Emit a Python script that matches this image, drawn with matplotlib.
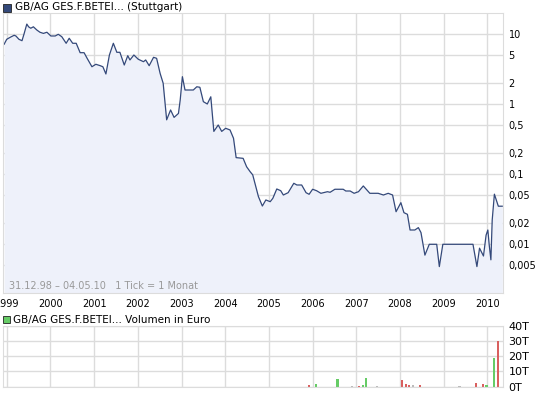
import numpy as np
import matplotlib
matplotlib.use("Agg")
import matplotlib.pyplot as plt
from matplotlib.patches import Rectangle

# price series (decimal year, EUR)
years = [1998.94, 1999.00, 1999.08, 1999.17, 1999.21, 1999.28, 1999.35, 1999.40,
         1999.46, 1999.50, 1999.55, 1999.61, 1999.69, 1999.76, 1999.84, 1999.92,
         2000.01, 2000.11, 2000.18, 2000.26, 2000.36, 2000.43, 2000.51, 2000.59,
         2000.68, 2000.77, 2000.84, 2000.95, 2001.04, 2001.14, 2001.20, 2001.27,
         2001.35, 2001.44, 2001.52, 2001.59, 2001.69, 2001.77, 2001.82, 2001.91,
         2002.01, 2002.13, 2002.18, 2002.26, 2002.36, 2002.43, 2002.51, 2002.58,
         2002.66, 2002.75, 2002.83, 2002.93, 2002.97, 2003.02, 2003.08, 2003.27,
         2003.35, 2003.42, 2003.50, 2003.59, 2003.67, 2003.74, 2003.84, 2003.92,
         2004.01, 2004.11, 2004.19, 2004.25, 2004.41, 2004.49, 2004.57, 2004.63,
         2004.76, 2004.85, 2004.93, 2005.03, 2005.09, 2005.18, 2005.27, 2005.33,
         2005.44, 2005.57, 2005.64, 2005.75, 2005.85, 2005.92, 2006.00, 2006.09,
         2006.19, 2006.34, 2006.40, 2006.51, 2006.70, 2006.76, 2006.86, 2006.95,
         2007.05, 2007.16, 2007.31, 2007.50, 2007.62, 2007.73, 2007.83, 2007.91,
         2008.02, 2008.09, 2008.17, 2008.23, 2008.34, 2008.42, 2008.48, 2008.57,
         2008.67, 2008.84, 2008.90, 2008.98, 2009.61, 2009.67, 2009.76, 2009.82,
         2009.91, 2009.97, 2010.01, 2010.04, 2010.08, 2010.11, 2010.16, 2010.25,
         2010.34]
prices = [7.20, 8.48, 9.06, 9.68, 9.46, 8.48, 8.10, 10.3,
          14.0, 12.8, 12.2, 12.8, 11.5, 10.7, 10.3, 10.7,
          9.46, 9.46, 10.0, 9.24, 7.44, 8.77, 7.44, 7.44,
          5.46, 5.46, 4.54, 3.44, 3.73, 3.56, 3.44, 2.71,
          5.06, 7.44, 5.53, 5.53, 3.64, 4.95, 4.30, 5.06,
          4.40, 4.06, 4.30, 3.56, 4.69, 4.54, 2.77, 2.00,
          0.60, 0.83, 0.65, 0.74, 1.15, 2.48, 1.60, 1.60,
          1.78, 1.75, 1.09, 1.01, 1.28, 0.41, 0.506, 0.41,
          0.454, 0.43, 0.327, 0.173, 0.169, 0.128, 0.109, 0.098,
          0.048, 0.0352, 0.043, 0.0406, 0.0454, 0.0617, 0.0583, 0.0506,
          0.0546, 0.0744, 0.0703, 0.0703, 0.0546, 0.0518, 0.0611, 0.0583,
          0.0535, 0.0564, 0.0553, 0.0611, 0.0611, 0.0577, 0.0577, 0.0535,
          0.0564, 0.0681, 0.0535, 0.0535, 0.0506, 0.0535, 0.0506, 0.0292,
          0.0393, 0.0283, 0.0268, 0.016, 0.016, 0.0173, 0.0147, 0.0070,
          0.0100, 0.0100, 0.0048, 0.0100, 0.0100, 0.0100, 0.0048, 0.0088,
          0.0068, 0.0135, 0.0160, 0.0100, 0.0060, 0.0222, 0.0520, 0.0350,
          0.0350]

# volume bars (decimal year, thousand EUR, colour key)
vol_years = [2005.91, 2006.07, 2006.57, 2006.91, 2007.07, 2007.15, 2007.23,
             2007.48, 2008.04, 2008.14, 2008.21, 2008.30, 2008.45, 2009.36,
             2009.74, 2009.89, 2009.98, 2010.15, 2010.24]
vol_values = [0.8, 1.5, 4.8, 0.6, 0.7, 1.0, 5.8,
              0.6, 4.6, 1.6, 0.8, 0.8, 0.8, 0.6,
              2.6, 1.6, 0.8, 19.0, 30.0]
vol_kind = ["down", "up", "up", "flat", "down", "up", "up",
            "flat", "down", "down", "down", "flat", "down", "flat",
            "down", "down", "up", "up", "down"]

price_ticks = [10, 5, 2, 1, 0.5, 0.2, 0.1, 0.05, 0.02, 0.01, 0.005]
year_ticks = list(range(1999, 2011))
vol_ticks = [0, 10, 20, 30, 40]

line_col = "#34497a"
fill_col = "#eef1fa"
grid_col = "#dcdcdc"
kind_col = {"up": "#66cc66", "down": "#d9605f", "flat": "#bbbbbb"}

plt.rcParams["font.family"] = "DejaVu Sans"
plt.rcParams["font.size"] = 7

W, H = 545, 395
fig = plt.figure(figsize=(W / 100, H / 100), dpi=100)

def px_axes(x0, y0, x1, y1):
    return fig.add_axes([x0 / W, 1 - y1 / H, (x1 - x0) / W, (y1 - y0) / H])

xmin, xmax = 1998.908, 2010.357

# main price panel
ax = px_axes(2.7, 13.3, 503, 293)
ax.set_yscale("log")
ax.fill_between(years, prices, 0.001, color=fill_col, lw=0)
ax.plot(years, prices, color=line_col, lw=0.9)
ax.set_xlim(xmin, xmax)
ax.set_ylim(0.002014, 19.95)
ax.set_yticks(price_ticks)
ax.set_yticklabels([("%g" % v).replace(".", ",") for v in price_ticks])
ax.minorticks_off()
ax.set_xticks(year_ticks)
ax.set_xticklabels([str(y) for y in year_ticks])
ax.yaxis.tick_right()
ax.tick_params(axis="y", length=0, pad=4)
ax.tick_params(axis="x", length=0, pad=4)
ax.grid(True, color=grid_col, lw=1)
ax.set_axisbelow(True)
for s in ax.spines.values():
    s.set_color(grid_col)
ax.text(0.012, 0.025, "31.12.98 \u2013 04.05.10   1 Tick = 1 Monat",
        transform=ax.transAxes, color="#999999", fontsize=7, va="center")

# volume panel
av = px_axes(2.7, 325.7, 503, 386.7)
for yr, v, k in zip(vol_years, vol_values, vol_kind):
    av.bar(yr, v, width=0.05, color=kind_col[k], lw=0, antialiased=False)
av.set_xlim(xmin, xmax)
av.set_ylim(0, 40)
av.set_yticks(vol_ticks)
av.set_yticklabels(["%dT" % v for v in vol_ticks], fontsize=8)
av.set_xticks(year_ticks)
av.set_xticklabels([])
av.yaxis.tick_right()
av.tick_params(length=0, pad=4)
av.grid(True, color=grid_col, lw=1)
av.set_axisbelow(True)
for s in av.spines.values():
    s.set_color(grid_col)

# legend-like headers
fig.patches.append(Rectangle((3 / W, 1 - 12 / H), 8 / W, 8 / H, transform=fig.transFigure,
                             facecolor=line_col, edgecolor="#222222", lw=0.6))
fig.text(15 / W, 1 - 7.5 / H, "GB/AG GES.F.BETEI... (Stuttgart)", fontsize=7.5, va="center")
fig.patches.append(Rectangle((3.3 / W, 1 - 322.7 / H), 6.5 / W, 6.5 / H, transform=fig.transFigure,
                             facecolor="#66cc66", edgecolor="#222222", lw=0.6))
fig.text(13 / W, 1 - 319.5 / H, "GB/AG GES.F.BETEI... Volumen in Euro", fontsize=7.5, va="center")

fig.savefig("out.png", dpi=100)
